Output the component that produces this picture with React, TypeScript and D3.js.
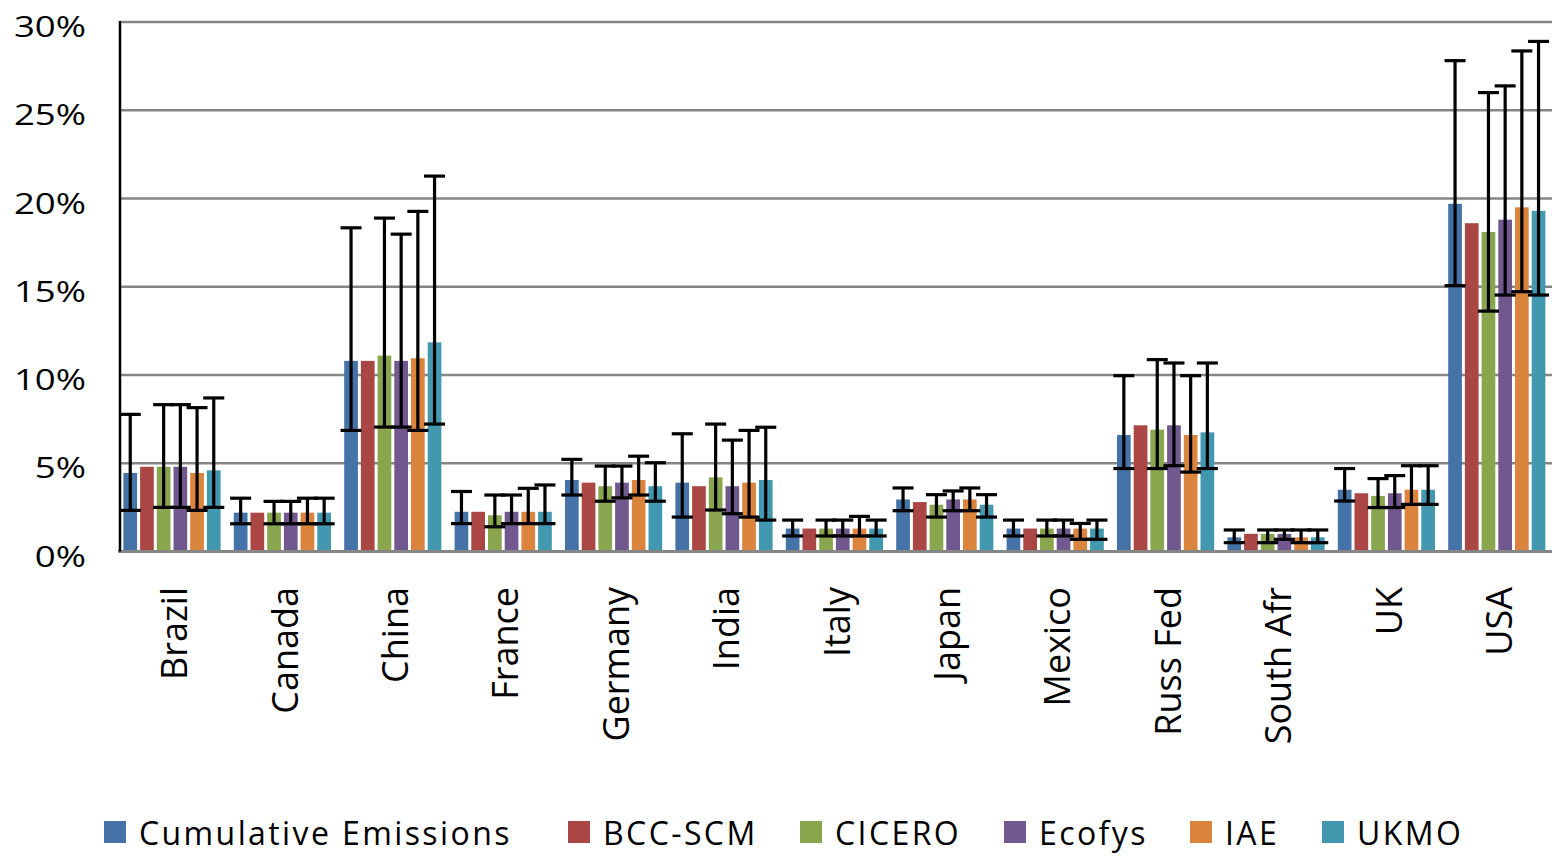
import React from "react";
import * as d3 from "d3";

const categories = ["Brazil", "Canada", "China", "France", "Germany", "India", "Italy", "Japan", "Mexico", "Russ Fed", "South Afr", "UK", "USA"];
const seriesNames = ["Cumulative Emissions", "BCC-SCM", "CICERO", "Ecofys", "IAE", "UKMO"];
const seriesColors = ["#4572A7", "#AA4643", "#89A54E", "#71588F", "#DB843D", "#4198AF"];

const cumulative = [4.45, 2.2, 10.8, 2.25, 4.05, 3.9, 1.3, 2.95, 1.3, 6.6, 0.8, 3.5, 19.7];
const bccscm = [4.8, 2.2, 10.8, 2.25, 3.9, 3.7, 1.3, 2.8, 1.3, 7.15, 1.0, 3.3, 18.6];
const cicero = [4.8, 2.2, 11.1, 2.05, 3.7, 4.2, 1.3, 2.65, 1.3, 6.9, 1.0, 3.15, 18.1];
const ecofys = [4.8, 2.2, 10.8, 2.25, 3.9, 3.7, 1.3, 2.95, 1.3, 7.15, 1.0, 3.3, 18.8];
const iae = [4.45, 2.2, 10.95, 2.25, 4.05, 3.9, 1.3, 2.95, 1.3, 6.6, 0.8, 3.5, 19.5];
const ukmo = [4.6, 2.2, 11.85, 2.25, 3.7, 4.05, 1.3, 2.65, 1.3, 6.75, 0.8, 3.5, 19.3];

const cumulativeLow = [2.33, 1.57, 6.86, 1.58, 3.2, 1.95, 0.88, 2.31, 0.88, 4.7, 0.5, 2.86, 15.06];
const cumulativeHigh = [7.77, 3.02, 18.34, 3.4, 5.22, 6.67, 1.78, 3.6, 1.78, 9.96, 1.22, 4.7, 27.81];
const ciceroLow = [2.5, 1.57, 7.05, 1.4, 2.85, 2.35, 0.88, 1.95, 0.88, 4.7, 0.5, 2.49, 13.62];
const ciceroHigh = [8.32, 2.84, 18.89, 3.2, 4.84, 7.22, 1.78, 3.22, 1.78, 10.87, 1.22, 4.13, 26.0];
const ecofysLow = [2.5, 1.57, 7.05, 1.58, 3.04, 2.14, 0.88, 2.31, 0.88, 4.86, 0.69, 2.49, 14.53];
const ecofysHigh = [8.32, 2.84, 17.98, 3.2, 4.84, 6.31, 1.78, 3.43, 1.78, 10.68, 1.22, 4.3, 26.38];
const iaeLow = [2.33, 1.57, 6.86, 1.58, 3.2, 1.95, 0.88, 2.31, 0.69, 4.5, 0.5, 2.67, 14.72];
const iaeHigh = [8.15, 3.02, 19.27, 3.58, 5.4, 6.86, 1.99, 3.6, 1.59, 9.96, 1.22, 4.86, 28.36];
const ukmoLow = [2.5, 1.57, 7.22, 1.58, 2.85, 1.78, 0.88, 1.95, 0.69, 4.7, 0.5, 2.67, 14.53];
const ukmoHigh = [8.7, 3.02, 21.27, 3.77, 5.03, 7.04, 1.78, 3.22, 1.78, 10.68, 1.22, 4.86, 28.9];

const yTicks = [0, 5, 10, 15, 20, 25, 30];

const seriesValues = [cumulative, bccscm, cicero, ecofys, iae, ukmo];
const seriesLow = [cumulativeLow, null, ciceroLow, ecofysLow, iaeLow, ukmoLow];
const seriesHigh = [cumulativeHigh, null, ciceroHigh, ecofysHigh, iaeHigh, ukmoHigh];

const W = 1552;
const H = 856;
const plotLeft = 118;
const catStep = 110.4;
const plotTop = 22;
const plotBottom = 551.5;
const legendSquareX = [104, 568, 800, 1004, 1190, 1322];
const FONT = "'Open Sans', sans-serif";

export default function App() {
  const x0 = d3.scaleBand<string>().domain(categories).range([plotLeft, plotLeft + catStep * categories.length]).padding(0);
  const x1 = d3.scaleBand<string>().domain(seriesNames).range([5.4, 102.6]).paddingInner(0.18).paddingOuter(0);
  const y = d3.scaleLinear().domain([0, 30]).range([plotBottom, plotTop]);
  const bw = x1.bandwidth();
  const cap = 10.5;

  return (
    <svg width={W} height={H} style={{ position: "absolute", left: 0, top: 0, background: "#fff" }}>
      <rect x={0} y={0} width={W} height={H} fill="#fff" />
      {yTicks.filter((t) => t > 0).map((t) => (
        <line key={"g" + t} x1={120} x2={W} y1={y(t)} y2={y(t)} stroke="#868686" strokeWidth={2.5} />
      ))}
      {yTicks.map((t) => (
        <text
          key={"yt" + t}
          transform={`translate(86, ${y(t) + 15}) scale(1.22, 1)`}
          textAnchor="end"
          fontFamily={FONT}
          fontSize={30}
          fill="#000"
        >
          {t + "%"}
        </text>
      ))}
      {categories.map((c, i) => (
        <g key={"c" + c} transform={`translate(${x0(c)},0)`}>
          {seriesNames.map((s, k) => (
            <rect
              key={s}
              x={x1(s)}
              y={y(seriesValues[k][i])}
              width={bw}
              height={y(0) - y(seriesValues[k][i])}
              fill={seriesColors[k]}
            />
          ))}
        </g>
      ))}
      {categories.map((c, i) => (
        <g key={"e" + c} transform={`translate(${x0(c)},0)`}>
          {seriesNames.map((s, k) => {
            const lo = seriesLow[k];
            const hi = seriesHigh[k];
            if (!lo || !hi) return null;
            const cx = (x1(s) as number) + bw / 2;
            return (
              <g key={s} stroke="#000" strokeWidth={3.2}>
                <line x1={cx} x2={cx} y1={y(lo[i])} y2={y(hi[i])} />
                <line x1={cx - cap} x2={cx + cap} y1={y(hi[i])} y2={y(hi[i])} />
                <line x1={cx - cap} x2={cx + cap} y1={y(lo[i])} y2={y(lo[i])} />
              </g>
            );
          })}
        </g>
      ))}
      <line x1={118} x2={W} y1={plotBottom} y2={plotBottom} stroke="#868686" strokeWidth={3} />
      <line x1={120} x2={120} y1={plotTop - 1} y2={plotBottom} stroke="#000" strokeWidth={2.5} />
      {categories.map((c) => (
        <text
          key={"xl" + c}
          transform={`translate(${(x0(c) as number) + catStep / 2 + 14}, 587) rotate(-90)`}
          textAnchor="end"
          fontFamily={FONT}
          fontSize={36}
          fill="#000"
        >
          {c}
        </text>
      ))}
      {seriesNames.map((s, k) => (
        <g key={"lg" + s}>
          <rect x={legendSquareX[k]} y={821} width={22} height={22} fill={seriesColors[k]} />
          <text x={legendSquareX[k] + 35} y={845} fontFamily={FONT} fontSize={32} letterSpacing={2.4} fill="#000">
            {s}
          </text>
        </g>
      ))}
    </svg>
  );
}
